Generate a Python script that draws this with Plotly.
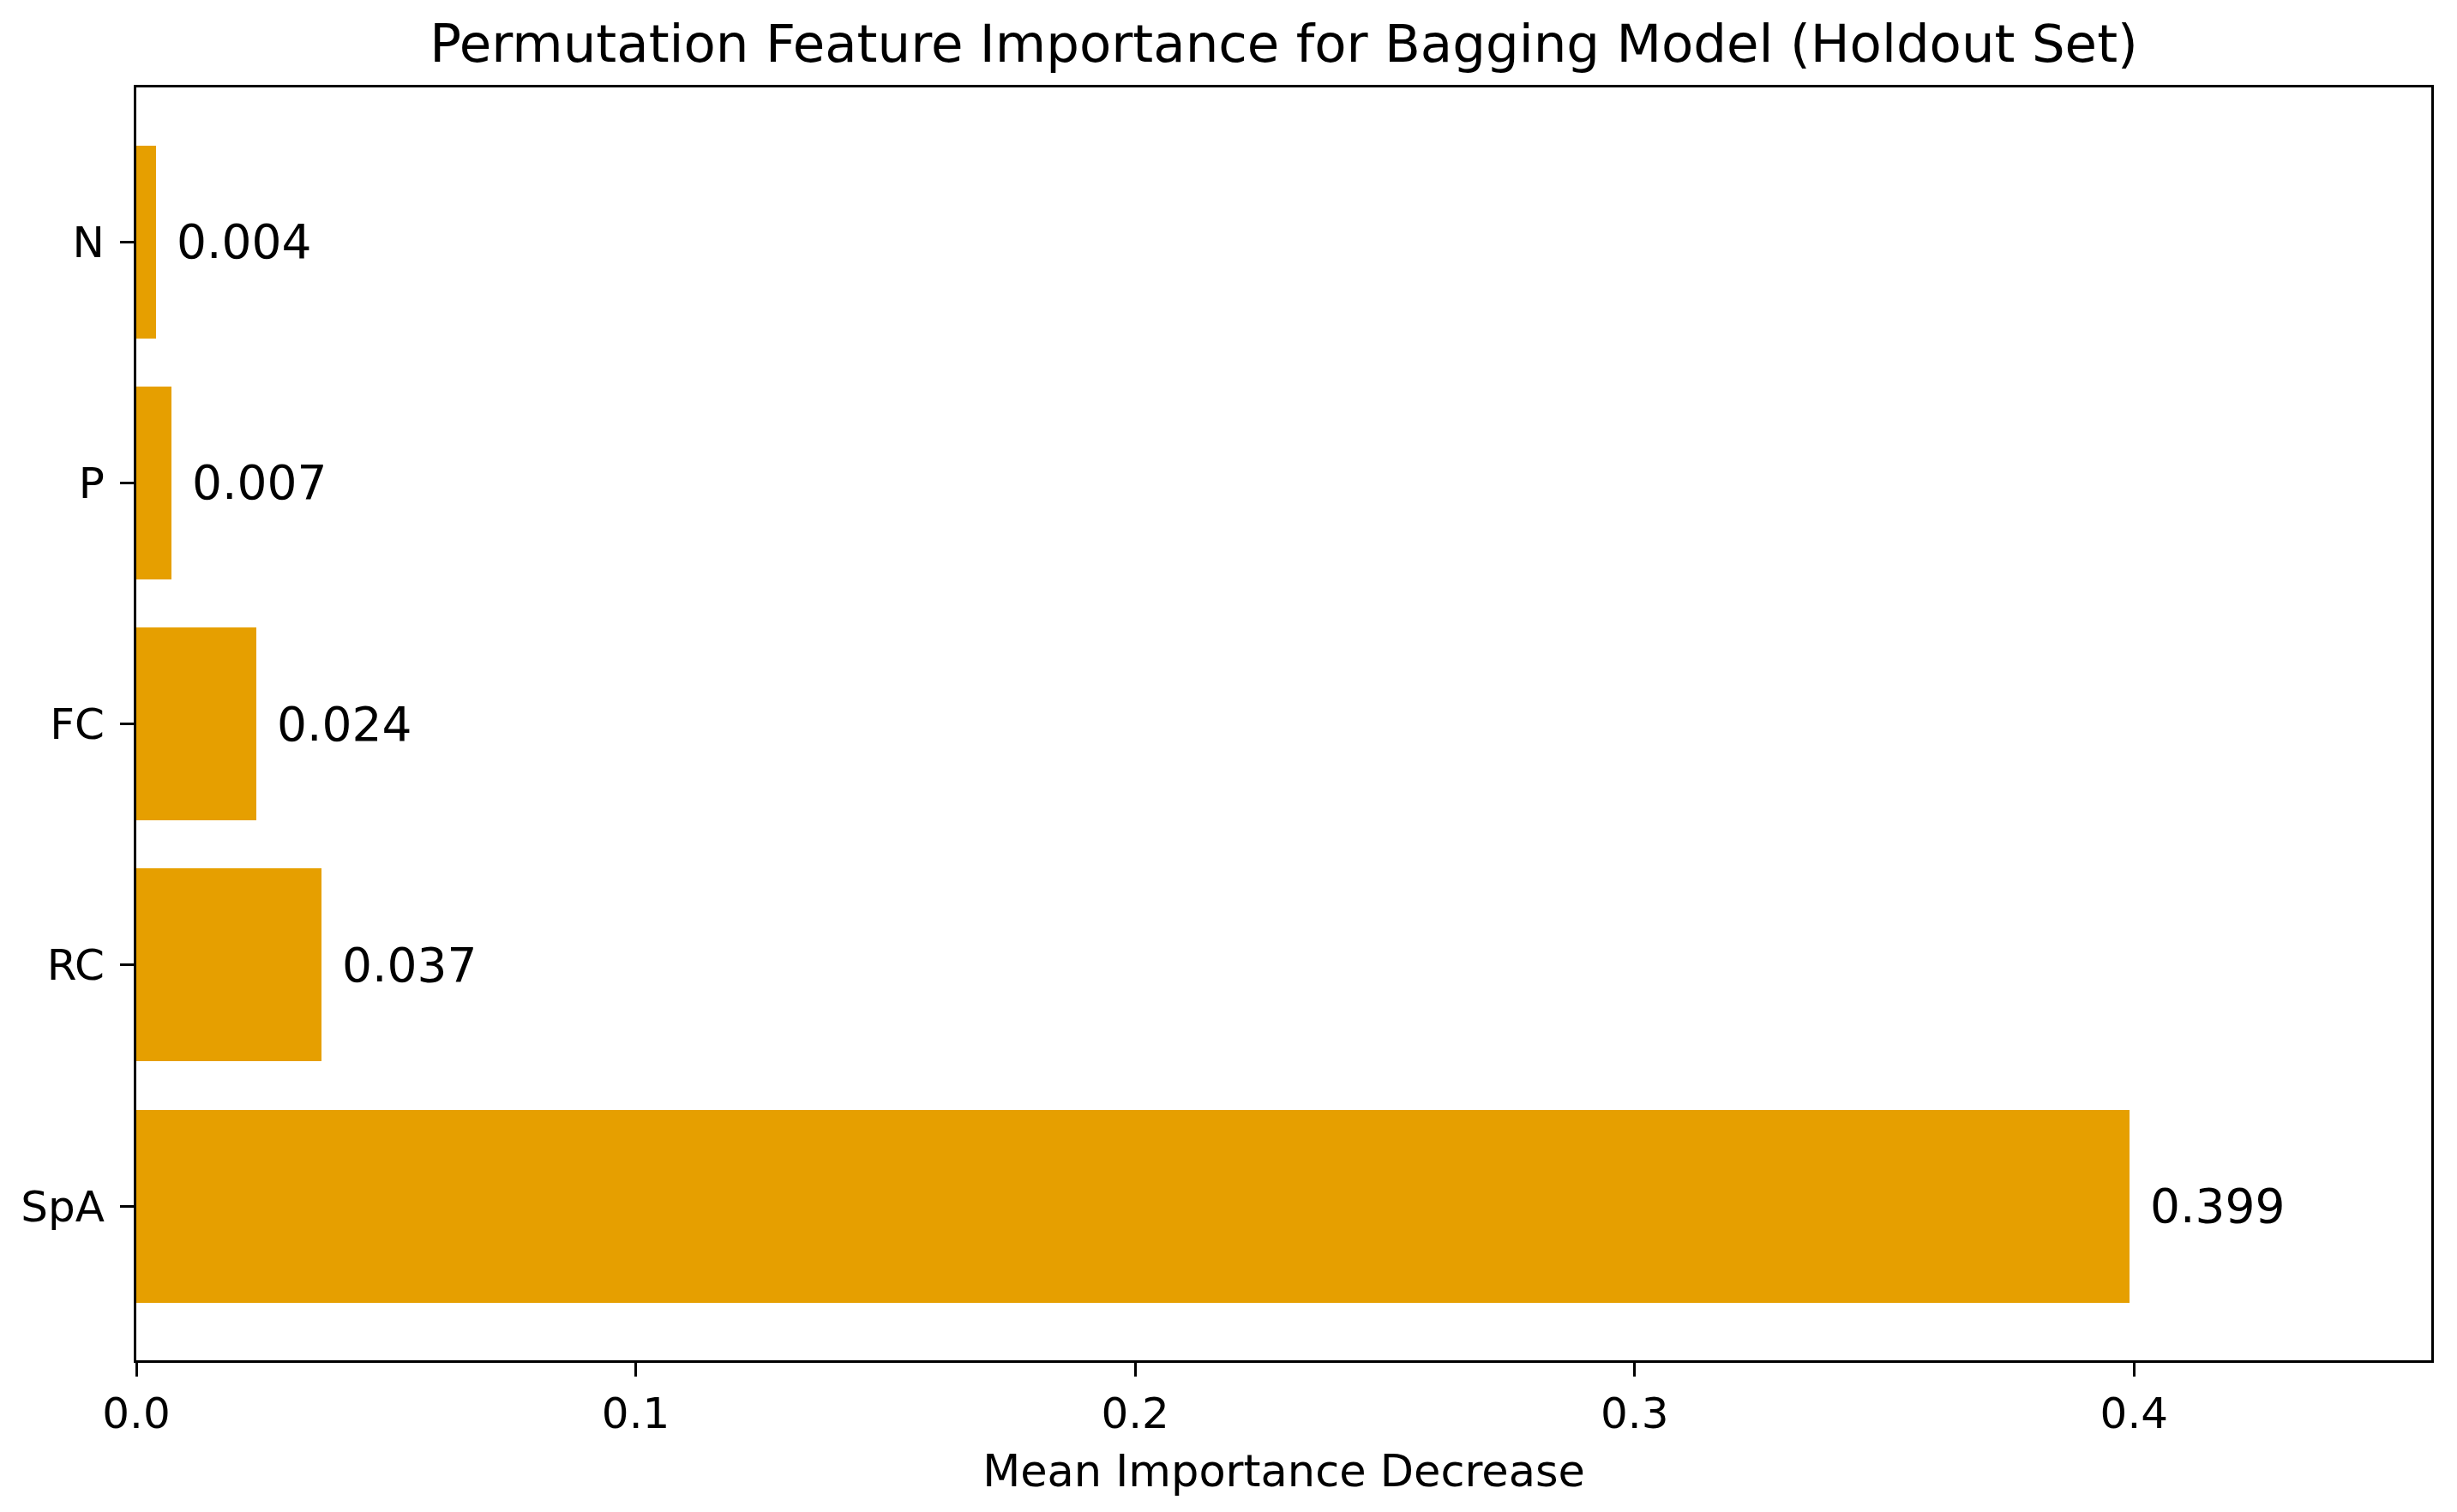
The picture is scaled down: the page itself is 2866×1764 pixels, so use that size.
import plotly.graph_objects as go

features = ["SpA", "RC", "FC", "P", "N"]
importance = [0.399, 0.037, 0.024, 0.007, 0.004]
value_labels = ["0.399", "0.037", "0.024", "0.007", "0.004"]
x_ticks = [0.0, 0.1, 0.2, 0.3, 0.4]
x_tick_labels = ["0.0", "0.1", "0.2", "0.3", "0.4"]

BAR_COLOR = "#E69F00"
FONT = "DejaVu Sans"

# page body has an 8px default margin, so shrink the figure accordingly
W, H = 2850, 1748

fig = go.Figure()
fig.add_trace(go.Bar(
    x=importance,
    y=list(range(len(features))),
    orientation="h",
    width=0.8,
    marker=dict(color=BAR_COLOR, line=dict(width=0)),
    showlegend=False,
))

for i, (v, lab) in enumerate(zip(importance, value_labels)):
    fig.add_annotation(
        x=v, y=i, text=lab, showarrow=False,
        xanchor="left", yanchor="middle", xshift=22,
        font=dict(family=FONT, size=55, color="black"),
    )

fig.update_layout(
    width=W, height=H,
    margin=dict(l=151, r=22, t=94, b=169),
    paper_bgcolor="white", plot_bgcolor="white",
    font=dict(family=FONT, color="black"),
    title=dict(
        text="Permutation Feature Importance for Bagging Model (Holdout Set)",
        x=0.5, xref="paper", xanchor="center",
        y=1 - 43 / H, yref="container", yanchor="middle",
        font=dict(family=FONT, size=61, color="black"),
    ),
    bargap=0,
)

fig.update_xaxes(
    range=[0, 0.4595],
    tickvals=x_ticks, ticktext=x_tick_labels,
    showgrid=False, zeroline=False,
    showline=True, linecolor="black", linewidth=3, mirror=True,
    ticks="outside", ticklen=16, tickwidth=3, tickcolor="black",
    tickfont=dict(family=FONT, size=50, color="black"),
    title=dict(text="Mean Importance Decrease", font=dict(family=FONT, size=51, color="black"), standoff=22),
)
fig.update_yaxes(
    range=[-0.64, 4.64],
    tickvals=list(range(len(features))), ticktext=features,
    showgrid=False, zeroline=False,
    showline=True, linecolor="black", linewidth=3, mirror=True,
    ticks="outside", ticklen=16, tickwidth=3, tickcolor="black",
    tickfont=dict(family=FONT, size=50, color="black"),
    ticklabelstandoff=8,
)

fig.write_html("out.html")
